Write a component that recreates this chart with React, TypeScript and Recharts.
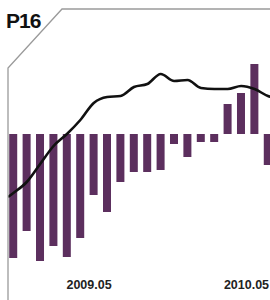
import { ComposedChart, Bar, Line, XAxis, YAxis } from 'recharts';

// month index along the x axis
const months = [1, 2, 3, 4, 5, 6, 7, 8, 9, 10, 11, 12, 13, 14, 15, 16, 17, 18, 19, 20];

// monthly change (bars)
const change = [-12.4, -9.7, -12.7, -11.2, -12.3, -10.4, -6.1, -7.8, -4.8, -3.8, -3.8, -3.6, -1.0, -2.3, -0.8, -0.8, 3.0, 4.1, 7.0, -3.1];

// trend (black line), starts a little before the first bar
const trendIdx = [0.6, 1, 2, 3, 4, 5, 6, 7, 8, 9, 10, 11, 12, 13, 14, 15, 16, 17, 18, 19, 20, 21];
const trend = [-6.3, -5.9, -4.8, -3.0, -1.2, 0, 1.4, 3.1, 3.7, 3.8, 4.7, 5.0, 6.0, 5.3, 5.4, 4.6, 4.5, 4.5, 4.8, 4.5, 3.8, 3.5];

const tickIdx = [6.65, 18.4];
const tickLabels = ['2009.05', '2010.05'];

const barData = months.map((m, i) => ({ idx: m, change: change[i] }));
const lineData = trendIdx.map((m, i) => ({ idx: m, trend: trend[i] }));

const BAR_W = 8;

// the numeric axis squeezes the band, so draw each bar at a fixed width round its centre
const WideBar = (p: any) => {
  const cx = p.x + p.width / 2;
  const top = Math.min(p.y, p.y + p.height);
  const h = Math.abs(p.height);
  return <rect x={cx - BAR_W / 2} y={top} width={BAR_W} height={h} fill={p.fill} />;
};

const App = () => {
  return (
    <div
      style={{
        position: 'absolute',
        left: 0,
        top: 0,
        width: 270,
        height: 300,
        overflow: 'hidden',
        background: '#fff',
        fontFamily: '"Liberation Sans", Arial, sans-serif',
      }}
    >
      <ComposedChart width={290} height={300} data={barData} margin={{ top: 4, right: 6, left: 8, bottom: 0 }}>
        <XAxis
          type="number"
          dataKey="idx"
          domain={[0.6, 21.2]}
          ticks={tickIdx}
          tickFormatter={(v) => tickLabels[tickIdx.indexOf(v)] ?? ''}
          allowDataOverflow
          axisLine={false}
          tickLine={false}
          height={30}
          tickMargin={4}
          tick={{ fontSize: 12.5, fontWeight: 'bold', fill: '#222' }}
        />
        <YAxis hide domain={[-13.6, 13]} allowDataOverflow />
        <Bar dataKey="change" fill="#5c2f5e" shape={WideBar} isAnimationActive={false} />
        <Line
          data={lineData}
          dataKey="trend"
          type="monotone"
          stroke="#111"
          strokeWidth={2.6}
          dot={false}
          isAnimationActive={false}
        />
      </ComposedChart>
      {/* frame and panel label */}
      <svg width={270} height={300} style={{ position: 'absolute', left: 0, top: 0, pointerEvents: 'none' }}>
        <polyline points="8,300 8,68 62,9 270,9" fill="none" stroke="#9a9a9a" strokeWidth={1.3} />
        <text x={6} y={28} fontSize={21} fontWeight="bold" letterSpacing={-1} fill="#111">
          P16
        </text>
      </svg>
    </div>
  );
};

export default App;
